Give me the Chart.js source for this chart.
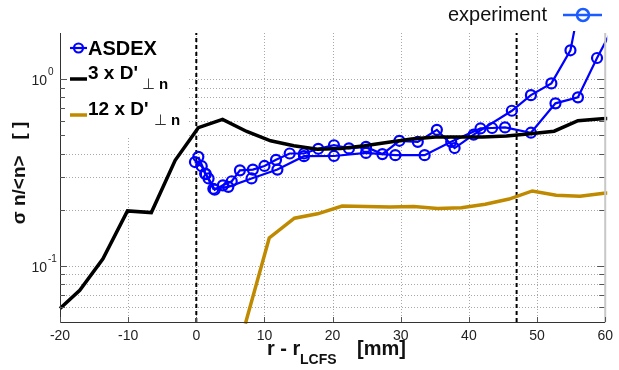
<!DOCTYPE html>
<html><head><meta charset="utf-8">
<script src="https://cdn.jsdelivr.net/npm/chart.js@4.4.0/dist/chart.umd.min.js"></script>
<style>html,body{margin:0;padding:0;background:#fff;}#wrap{width:619px;height:370px;}</style>
</head><body><div id="wrap"><canvas id="c" width="619" height="370"></canvas></div>
<script>
// ---- data ----
const asdexA_x = [-0.2, 0.8, 1.3, 1.8, 2.7, 3.9, 5.2, 6.4, 8.3, 10.0, 11.7, 13.7, 15.8, 17.9, 20.2, 22.4, 24.9, 27.3, 29.8, 32.5, 35.3, 37.9, 40.7, 46.3, 49.1, 52.1, 54.9, 56.2];
const asdexA_y = [0.36, 0.342, 0.312, 0.294, 0.256, 0.27, 0.284, 0.325, 0.328, 0.343, 0.37, 0.40, 0.40, 0.424, 0.443, 0.426, 0.434, 0.397, 0.468, 0.462, 0.536, 0.428, 0.505, 0.678, 0.822, 0.95, 1.43, 2.5];
const asdexB_x = [0.3, 1.4, 2.5, 4.7, 8.1, 11.9, 15.8, 20.2, 24.9, 29.2, 33.5, 37.4, 41.7, 43.4, 45.3, 49.1, 52.7, 56.0, 58.8, 61.5];
const asdexB_y = [0.384, 0.31, 0.259, 0.265, 0.294, 0.328, 0.387, 0.388, 0.403, 0.392, 0.392, 0.462, 0.545, 0.548, 0.552, 0.517, 0.743, 0.80, 1.30, 2.0];
const d3_x = [-20, -17.1, -13.7, -10.1, -6.6, -3.1, 0.3, 3.85, 7.4, 10.9, 14.3, 17.8, 21.2, 24.7, 28.2, 31.6, 35.1, 38.5, 42, 45.5, 49, 52.5, 56, 59.5, 63];
const d3_y = [0.059, 0.074, 0.109, 0.197, 0.193, 0.368, 0.55, 0.61, 0.525, 0.468, 0.44, 0.422, 0.425, 0.44, 0.46, 0.478, 0.49, 0.49, 0.49, 0.497, 0.51, 0.527, 0.6, 0.614, 0.62];
const d12_x = [7.2, 10.7, 14.4, 17.8, 21.4, 24.9, 28.4, 31.9, 35.4, 38.9, 42.4, 45.9, 49.3, 52.8, 56.3, 59.8, 63];
const d12_y = [0.049, 0.141, 0.180, 0.19, 0.209, 0.208, 0.207, 0.208, 0.203, 0.205, 0.214, 0.228, 0.252, 0.239, 0.236, 0.245, 0.25];
const markerLines_x = [0, 47];
const xTicks = [-20, -10, 0, 10, 20, 30, 40, 50, 60];
const yMinorTicks = [0.06, 0.07, 0.08, 0.09, 0.1, 0.2, 0.3, 0.4, 0.5, 0.6, 0.7, 0.8, 0.9, 1];
const yLabelTicks = [1, 0.1];
const yLabelExp = ['0', '-1'];
const xRange = [-20, 60];
const yRange = [0.05, 1.77];

const pts = (xs, ys) => xs.map((x, i) => ({x: x, y: ys[i]}));
const vline = x => [{x: x, y: yRange[0]}, {x: x, y: yRange[1]}];
const FONT = "'Liberation Sans', Arial, Helvetica, sans-serif";
const BLUE = '#0000ff', GOLD = '#bf8a00';

const decor = {
  id: 'decor',
  beforeDatasetsDraw(chart) {
    const ctx = chart.ctx, a = chart.chartArea, xs = chart.scales.x, ys = chart.scales.y;
    ctx.save();
    ctx.strokeStyle = '#a8a8a8'; ctx.lineWidth = 1; ctx.setLineDash([1, 2]);
    xTicks.forEach(v => {
      if (v === xRange[0] || v === xRange[1]) return;
      const p = Math.round(xs.getPixelForValue(v)) + 0.5;
      ctx.beginPath(); ctx.moveTo(p, a.top); ctx.lineTo(p, a.bottom); ctx.stroke();
    });
    yMinorTicks.forEach(v => {
      const p = Math.round(ys.getPixelForValue(v)) + 0.5;
      ctx.beginPath(); ctx.moveTo(a.left, p); ctx.lineTo(a.right, p); ctx.stroke();
    });
    ctx.setLineDash([]);
    // legend background
    ctx.fillStyle = '#fff';
    ctx.fillRect(a.left + 1, a.top, 126, 103);
    ctx.restore();
  },
  afterDatasetsDraw(chart) {
    const ctx = chart.ctx, a = chart.chartArea, xs = chart.scales.x, ys = chart.scales.y;
    ctx.save();
    // axes
    ctx.strokeStyle = '#c8c8c8'; ctx.lineWidth = 2;
    ctx.beginPath(); ctx.moveTo(a.right, a.top); ctx.lineTo(a.right, a.bottom); ctx.stroke();
    ctx.strokeStyle = '#333'; ctx.lineWidth = 1;
    ctx.beginPath(); ctx.moveTo(a.left + 0.5, a.top); ctx.lineTo(a.left + 0.5, a.bottom + 0.5); ctx.lineTo(a.right, a.bottom + 0.5); ctx.stroke();
    // tick marks
    ctx.strokeStyle = '#555';
    yMinorTicks.forEach(v => {
      const p = Math.round(ys.getPixelForValue(v)) + 0.5;
      const len = (v === 1 || v === 0.1) ? 7 : 5;
      ctx.beginPath(); ctx.moveTo(a.left, p); ctx.lineTo(a.left + len, p); ctx.stroke();
      ctx.beginPath(); ctx.moveTo(a.right - 1, p); ctx.lineTo(a.right - 1 - len, p); ctx.stroke();
    });
    xTicks.forEach(v => {
      const p = Math.round(xs.getPixelForValue(v)) + 0.5;
      ctx.beginPath(); ctx.moveTo(p, a.bottom); ctx.lineTo(p, a.bottom - 5); ctx.stroke();
    });
    // y tick labels
    ctx.fillStyle = '#222';
    yLabelTicks.forEach((v, i) => {
      const p = ys.getPixelForValue(v);
      ctx.font = '14px ' + FONT; ctx.textAlign = 'right'; ctx.textBaseline = 'alphabetic';
      ctx.fillText('10', 47, p + 6);
      ctx.font = '10px ' + FONT; ctx.textAlign = 'left';
      ctx.fillText(yLabelExp[i], 48, p - 4);
    });
    // legend (inside, top-left)
    ctx.textAlign = 'left'; ctx.textBaseline = 'alphabetic';
    ctx.lineWidth = 2.2; ctx.strokeStyle = BLUE;
    ctx.beginPath(); ctx.moveTo(70, 48); ctx.lineTo(87, 48); ctx.stroke();
    ctx.beginPath(); ctx.arc(78.5, 48, 4.5, 0, Math.PI * 2); ctx.stroke();
    ctx.fillStyle = '#000'; ctx.font = 'bold 20px ' + FONT;
    ctx.fillText('ASDEX', 88, 55);
    ctx.lineWidth = 3.5; ctx.strokeStyle = '#000';
    ctx.beginPath(); ctx.moveTo(70, 79); ctx.lineTo(87, 79); ctx.stroke();
    ctx.font = 'bold 19px ' + FONT; ctx.fillText("3 x D'", 88, 79);
    ctx.font = '15px ' + FONT; ctx.fillStyle = '#333'; ctx.fillText('\u22A5', 142, 89);
    ctx.font = 'bold 15px ' + FONT; ctx.fillStyle = '#000'; ctx.fillText('n', 159, 89);
    ctx.strokeStyle = GOLD;
    ctx.beginPath(); ctx.moveTo(70, 115); ctx.lineTo(87, 115); ctx.stroke();
    ctx.font = 'bold 19px ' + FONT; ctx.fillText("12 x D'", 88, 115);
    ctx.font = '15px ' + FONT; ctx.fillStyle = '#333'; ctx.fillText('\u22A5', 154, 125);
    ctx.font = 'bold 15px ' + FONT; ctx.fillStyle = '#000'; ctx.fillText('n', 171, 125);
    // experiment legend (top right)
    ctx.font = '20px ' + FONT; ctx.fillStyle = '#111';
    ctx.fillText('experiment', 448, 21);
    ctx.strokeStyle = '#1a5cff'; ctx.lineWidth = 2.5;
    ctx.beginPath(); ctx.moveTo(563, 15); ctx.lineTo(602, 15); ctx.stroke();
    ctx.beginPath(); ctx.arc(583, 15, 6, 0, Math.PI * 2); ctx.stroke();
    // x axis title
    ctx.fillStyle = '#111';
    ctx.font = 'bold 20px ' + FONT; ctx.fillText('r - r', 267, 355);
    ctx.font = 'bold 14px ' + FONT; ctx.fillText('LCFS', 300, 364);
    ctx.font = 'bold 20px ' + FONT; ctx.fillText('[mm]', 357, 355);
    // y axis title
    ctx.translate(25, 173); ctx.rotate(-Math.PI / 2);
    ctx.textAlign = 'center'; ctx.font = 'bold 19px ' + FONT;
    ctx.fillText('\u03C3 n/<n>   [ ]', 0, 0);
    ctx.restore();
  }
};

const lineDs = (label, data, color, width, dash) => ({
  label, data, showLine: true, borderColor: color, backgroundColor: color,
  borderWidth: width, pointRadius: 0, borderDash: dash || [], tension: 0, clip: 2
});
const markDs = (label, data) => ({
  label, data, showLine: true, borderColor: BLUE, borderWidth: 2.2,
  pointRadius: 5, pointBorderWidth: 2.2, pointBorderColor: BLUE,
  pointBackgroundColor: 'rgba(0,0,0,0)', pointStyle: 'circle', tension: 0, clip: 2
});

new Chart(document.getElementById('c'), {
  type: 'scatter',
  data: {
    datasets: [
      lineDs('3 x D', pts(d3_x, d3_y), '#000', 3.5),
      lineDs('12 x D', pts(d12_x, d12_y), GOLD, 3.5),
      markDs('ASDEX a', pts(asdexA_x, asdexA_y)),
      markDs('ASDEX b', pts(asdexB_x, asdexB_y)),
      lineDs('LCFS', vline(markerLines_x[0]), '#000', 2, [4, 3]),
      lineDs('limiter', vline(markerLines_x[1]), '#000', 2, [4, 3])
    ]
  },
  options: {
    responsive: false, animation: false, devicePixelRatio: 1,
    layout: {padding: {top: 33, right: 8, left: 0, bottom: 0}},
    plugins: {legend: {display: false}, tooltip: {enabled: false}},
    scales: {
      x: {
        type: 'linear', min: xRange[0], max: xRange[1],
        afterBuildTicks: s => { s.ticks = xTicks.map(v => ({value: v})); },
        afterFit: s => { s.height = 48; },
        ticks: {font: {family: FONT, size: 14}, color: '#222', padding: 6, maxRotation: 0, autoSkip: false},
        grid: {display: false, drawTicks: false}, border: {display: false}
      },
      y: {
        type: 'logarithmic', min: yRange[0], max: yRange[1],
        afterFit: s => { s.width = 60; },
        ticks: {display: false},
        grid: {display: false, drawTicks: false}, border: {display: false}
      }
    }
  },
  plugins: [decor]
});
</script></body></html>
